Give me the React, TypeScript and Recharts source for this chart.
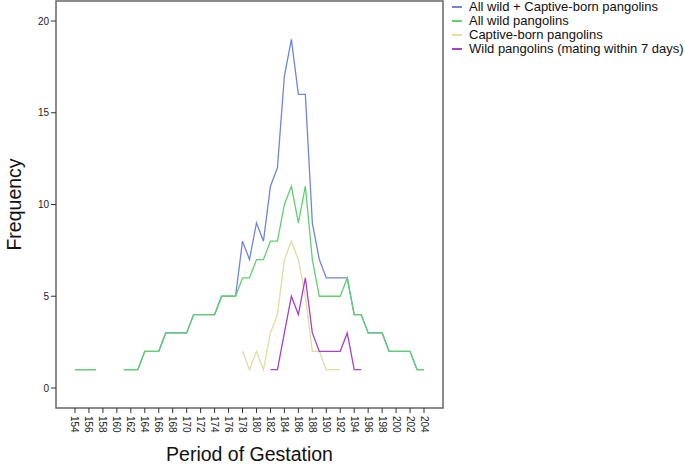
import React from 'react';
import { LineChart, Line, XAxis, YAxis, ReferenceArea } from 'recharts';

const days = Array.from({ length: 51 }, (_, i) => 154 + i);

// values per day 154..204, null where no record
const allWildCaptive = [
  1, 1, 1, 1, null, null, null, 1, 1, 1, 2, 2, 2, 3, 3, 3, 3, 4, 4, 4, 4, 5, 5, 5,
  8, 7, 9, 8, 11, 12, 17, 19, 16, 16, 9, 7, 6, 6, 6, 6, 4, 4, 3, 3, 3, 2, 2, 2, 2, 1, 1
];
const allWild = [
  1, 1, 1, 1, null, null, null, 1, 1, 1, 2, 2, 2, 3, 3, 3, 3, 4, 4, 4, 4, 5, 5, 5,
  6, 6, 7, 7, 8, 8, 10, 11, 9, 11, 7, 5, 5, 5, 5, 6, 4, 4, 3, 3, 3, 2, 2, 2, 2, 1, 1
];
// day 178..192
const captiveStart = 178;
const captiveBorn = [2, 1, 2, 1, 3, 4, 7, 8, 7, 5, 2, 2, 1, 1, 1];
// day 182..195
const matingStart = 182;
const wildMating7 = [1, 1, 3, 5, 4, 6, 3, 2, 2, 2, 2, 3, 1, 1];

const xTicks = days.filter((d) => d % 2 === 0);
const yTicks = [0, 5, 10, 15, 20];

const series = [
  { key: 'allWildCaptive', name: 'All wild + Captive-born pangolins', color: '#6f87d6' },
  { key: 'allWild', name: 'All wild pangolins', color: '#62d06d' },
  { key: 'captiveBorn', name: 'Captive-born pangolins', color: '#e2dba2' },
  { key: 'wildMating7', name: 'Wild pangolins (mating within 7 days)', color: '#a443c6' }
];

const data = days.map((d, i) => ({
  day: d,
  allWildCaptive: allWildCaptive[i],
  allWild: allWild[i],
  captiveBorn: captiveBorn[d - captiveStart] ?? null,
  wildMating7: wildMating7[d - matingStart] ?? null
}));

const X_DOMAIN: [number, number] = [151.28, 206.72];
const Y_DOMAIN: [number, number] = [-1.09, 21.09];
const FONT = '"Liberation Sans", Arial, sans-serif';

const XTick = (props: any) => {
  const { x, y, payload } = props;
  return (
    <text
      transform={`translate(${x},${y + 1}) rotate(90)`}
      textAnchor="start"
      dy="0.35em"
      fontSize={10}
      fill="#222"
      fontFamily={FONT}
    >
      {payload.value}
    </text>
  );
};

const LegendBox = () => (
  <div
    style={{
      position: 'absolute',
      left: 452,
      top: 0,
      fontFamily: FONT,
      fontSize: 13,
      color: '#111',
      lineHeight: '14px'
    }}
  >
    {series.map((s) => (
      <div key={s.key} style={{ display: 'flex', alignItems: 'center', height: 14, whiteSpace: 'nowrap' }}>
        <span style={{ width: 10, height: 1.3, background: s.color, marginRight: 7 }} />
        <span>{s.name}</span>
      </div>
    ))}
  </div>
);

export default function App() {
  return (
    <div style={{ position: 'absolute', left: 0, top: 0, width: 685, height: 464, background: '#fff' }}>
      <LineChart
        width={685}
        height={464}
        data={data}
        margin={{ top: 1, right: 242, bottom: 0, left: 6 }}
      >
        <XAxis
          dataKey="day"
          type="number"
          domain={X_DOMAIN}
          ticks={xTicks}
          interval={0}
          tick={<XTick />}
          tickSize={5}
          tickLine={{ stroke: '#333' }}
          axisLine={false}
          height={56}
          label={{
            value: 'Period of Gestation',
            position: 'insideBottom',
            offset: 0,
            dy: -3,
            fontSize: 19.5,
            fill: '#111',
            fontFamily: FONT
          }}
        />
        <YAxis
          type="number"
          domain={Y_DOMAIN}
          ticks={yTicks}
          width={50}
          tickSize={5}
          tickLine={{ stroke: '#333' }}
          axisLine={false}
          tick={{ fontSize: 10, fill: '#222', fontFamily: FONT }}
          label={{
            value: 'Frequency',
            angle: -90,
            position: 'insideLeft',
            offset: 0,
            dx: 8,
            fontSize: 19.5,
            fill: '#111',
            fontFamily: FONT,
            style: { textAnchor: 'middle' }
          }}
        />
        <ReferenceArea
          x1={X_DOMAIN[0]}
          x2={X_DOMAIN[1]}
          y1={Y_DOMAIN[0]}
          y2={Y_DOMAIN[1]}
          fill="none"
          stroke="#666"
          strokeWidth={1.5}
        />
        {series.map((s) => (
          <Line
            key={s.key}
            dataKey={s.key}
            name={s.name}
            type="linear"
            stroke={s.color}
            strokeWidth={1.3}
            dot={false}
            activeDot={false}
            connectNulls={false}
            isAnimationActive={false}
          />
        ))}
      </LineChart>
      <LegendBox />
    </div>
  );
}
